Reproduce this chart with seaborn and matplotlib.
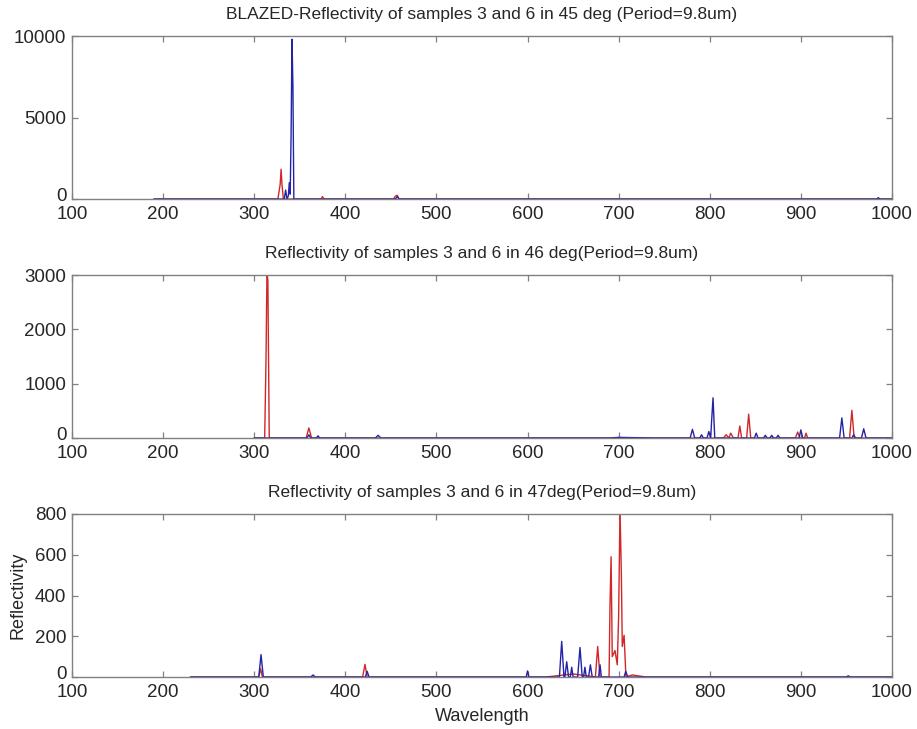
import numpy as np
import pandas as pd
import matplotlib
matplotlib.use("Agg")
import matplotlib.pyplot as plt
import matplotlib.transforms as mtransforms
import seaborn as sns

# wavelength / reflectivity points, one pair of lists per curve
# panel 1 : 45 deg
wl_45_red = [190, 326, 328.5, 329.5, 330.5, 332, 373.5, 375, 376.5, 453, 455, 457, 459, 1000]
rf_45_red = [0, 0, 900, 1830, 900, 0, 0, 150, 0, 0, 180, 230, 0, 0]
wl_45_blue = [190, 333, 334.5, 336, 337.5, 338.5, 339.5, 340.5, 341.5, 342.5, 343.5,
              455, 457, 459, 983, 985, 987, 1000]
rf_45_blue = [0, 0, 550, 0, 200, 1000, 300, 4000, 9800, 6900, 0,
              0, 150, 0, 0, 80, 0, 0]

# panel 2 : 46 deg
wl_46_red = [300, 311.5, 313, 314, 315, 316.5, 357, 360, 363, 815, 818, 821, 823, 826,
             831, 833, 835, 840.5, 842.7, 845, 894, 896.5, 899, 904, 905.7, 907.5,
             953.5, 956, 958.5, 1000]
rf_46_red = [0, 0, 1500, 3050, 2900, 0, 0, 185, 0, 0, 60, 0, 90, 0,
             0, 220, 0, 0, 440, 0, 0, 110, 0, 0, 90, 0,
             0, 510, 0, 0]
wl_46_blue = [300, 358, 360, 362, 368, 370, 372, 433, 436, 439, 690, 700, 740, 778.5,
              781, 783.5, 789, 791, 793, 797, 799, 801, 802, 803.6, 805.5, 849, 851,
              853, 859, 861, 863, 866, 868, 870, 873, 875, 877, 898, 900, 902, 942.5,
              945, 947.5, 956, 958, 960, 966.5, 969, 971.5, 1000]
rf_46_blue = [0, 0, 60, 0, 0, 40, 0, 0, 50, 0, 0, 12, 0, 0,
              160, 0, 0, 60, 0, 0, 120, 0, 300, 740, 0, 0, 90,
              0, 0, 50, 0, 0, 50, 0, 0, 50, 0, 0, 150, 0, 0,
              370, 0, 0, 60, 0, 0, 170, 0, 0]

# panel 3 : 47 deg
wl_47_red = [230, 305, 307, 309, 419, 421.6, 424, 620, 650, 674.5, 677, 679.5, 689.5,
             690.5, 691.7, 693, 696, 698.5, 700, 701.5, 703, 704, 706, 708, 715, 730, 1000]
rf_47_red = [0, 0, 40, 0, 0, 62, 0, 0, 15, 0, 150, 0, 0,
             350, 590, 100, 130, 60, 300, 830, 500, 150, 205, 0, 10, 0, 0]
wl_47_blue = [230, 305, 307.5, 310, 362, 364.6, 367, 422, 424, 426, 598.5, 600, 601.5,
              635, 637.5, 640, 641, 643, 645, 647, 648.5, 650, 655, 657.6, 660, 661.5,
              663, 664.5, 667, 669, 671, 678, 679.6, 681, 706, 707.8, 710, 950, 952,
              954, 1000]
rf_47_blue = [0, 0, 110, 0, 0, 10, 0, 0, 28, 0, 0, 30, 0,
              0, 175, 0, 0, 75, 0, 0, 48, 0, 0, 145, 0, 0,
              48, 0, 0, 60, 0, 0, 60, 0, 0, 28, 0, 0, 6,
              0, 0]

titles = ["BLAZED-Reflectivity of samples 3 and 6 in 45 deg (Period=9.8um)",
          "Reflectivity of samples 3 and 6 in 46 deg(Period=9.8um)",
          "Reflectivity of samples 3 and 6 in 47deg(Period=9.8um)"]
y_limits = [10000, 3000, 800]
y_ticks = [[0, 5000, 10000], [0, 1000, 2000, 3000], [0, 200, 400, 600, 800]]
x_ticks = list(range(100, 1001, 100))

panels = [((wl_45_red, rf_45_red), (wl_45_blue, rf_45_blue)),
          ((wl_46_red, rf_46_red), (wl_46_blue, rf_46_blue)),
          ((wl_47_red, rf_47_red), (wl_47_blue, rf_47_blue))]

sns.set_style("white")
plt.rcParams['font.family'] = ['Liberation Sans', 'DejaVu Sans']

red = "#d02828"
blue = "#2323a8"
edge = "#808080"

fig, axes = plt.subplots(3, 1, figsize=(9.17, 7.29), dpi=100)
fig.subplots_adjust(left=0.0785, right=0.9727, top=0.9506, bottom=0.0713, hspace=0.466)

for ax, (r, b), title, ymax, yt in zip(axes, panels, titles, y_limits, y_ticks):
    df_r = pd.DataFrame({"Wavelength": r[0], "Reflectivity": r[1]})
    df_b = pd.DataFrame({"Wavelength": b[0], "Reflectivity": b[1]})
    sns.lineplot(data=df_r, x="Wavelength", y="Reflectivity", ax=ax, color=red,
                 lw=1.0, sort=False, estimator=None)
    sns.lineplot(data=df_b, x="Wavelength", y="Reflectivity", ax=ax, color=blue,
                 lw=1.0, sort=False, estimator=None)
    ax.set_xlim(100, 1000)
    ax.set_ylim(0, ymax)
    ax.set_xticks(x_ticks)
    ax.set_yticks(yt)
    ax.set_title(title, fontsize=12.5, pad=12)
    ax.set_xlabel("")
    ax.set_ylabel("")
    for s in ax.spines.values():
        s.set_color(edge)
        s.set_linewidth(1.0)
        s.set_visible(True)
    ax.tick_params(direction="in", length=4, width=0.9, color=edge, labelsize=13.5,
                   top=True, right=True, bottom=True, left=True, pad=4)
    ax.tick_params(axis="x", pad=5)
    # lift the "0" label a little so it just clears the "100" below it
    lab0 = ax.get_yticklabels()[0]
    lab0.set_transform(lab0.get_transform() +
                       mtransforms.ScaledTranslation(0, 3 / 72, fig.dpi_scale_trans))

axes[2].set_xlabel("Wavelength", fontsize=13, labelpad=5)
axes[2].set_ylabel("Reflectivity", fontsize=13, labelpad=6)

fig.savefig("out.png", dpi=100)
